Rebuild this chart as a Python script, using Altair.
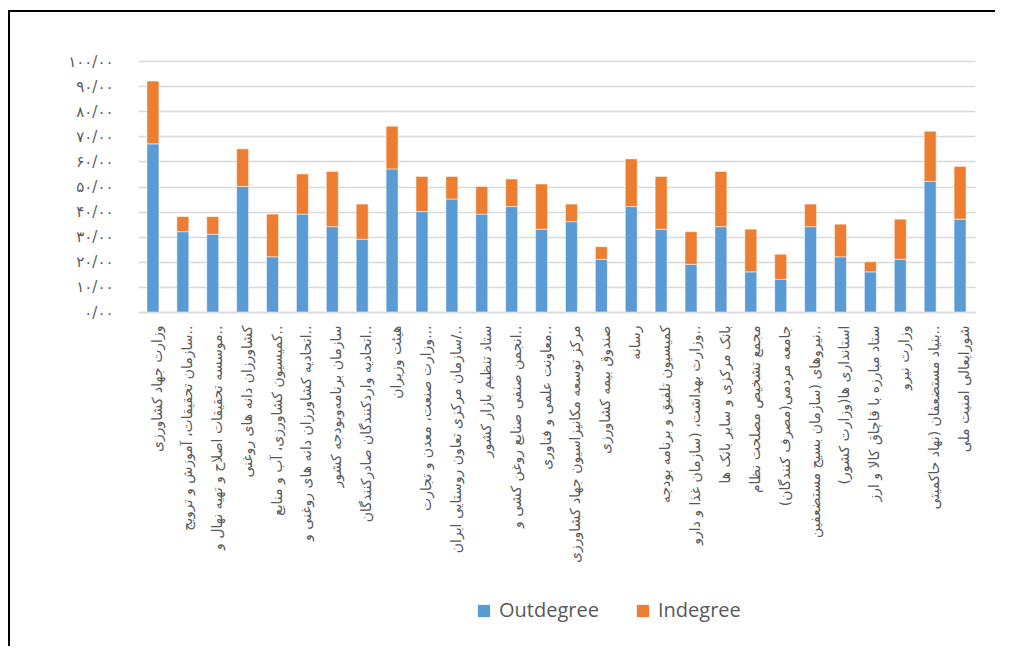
import altair as alt
import pandas as pd

organizations = [
    "وزارت جهاد کشاورزی",
    "سازمان تحقیقات، آموزش و ترویج..",
    "موسسه تحقیقات اصلاح و تهیه نهال و..",
    "کشاورزان دانه های روغنی",
    "کمیسیون کشاورزی، آب و منابع..",
    "اتحادیه کشاورزان دانه های روغنی و..",
    "سازمان برنامه‌وبودجه کشور",
    "اتحادیه واردکنندگان صادرکنندگان..",
    "هیئت وزیران",
    "وزارت صنعت، معدن و تجارت...",
    "سازمان مرکزی تعاون روستایی ایران/..",
    "ستاد تنظیم بازار کشور",
    "انجمن صنفی صنایع روغن کشی و..",
    "معاونت علمی و فناوری..",
    "مرکز توسعه مکانیزاسیون جهاد کشاورزی",
    "صندوق بیمه کشاورزی",
    "رسانه",
    "کمیسیون تلفیق و برنامه بودجه",
    "وزارت بهداشت، (سازمان غذا و دارو..",
    "بانک مرکزی و سایر بانک ها",
    "مجمع تشخیص مصلحت نظام",
    "(مصرف کنندگان)جامعه مردمی",
    "نیروهای (سازمان بسیج مستضعفین..",
    "(وزارت کشور)استانداری ها",
    "ستاد مبارزه با قاچاق کالا و ارز",
    "وزارت نیرو",
    "بنیاد مستضعفان (نهاد حاکمیتی..",
    "شورایعالی امنیت ملی",
]

outdegree = [67, 32, 31, 50, 22, 39, 34, 29, 57, 40, 45, 39, 42, 33,
             36, 21, 42, 33, 19, 34, 16, 13, 34, 22, 16, 21, 52, 37]
indegree = [25, 6, 7, 15, 17, 16, 22, 14, 17, 14, 9, 11, 11, 18,
            7, 5, 19, 21, 13, 22, 17, 10, 9, 13, 4, 16, 20, 21]

series_names = ["Outdegree", "Indegree"]
series_colors = ["#5B9BD5", "#ED7D31"]

y_tick_values = [0, 10, 20, 30, 40, 50, 60, 70, 80, 90, 100]
y_tick_labels = ["۰/۰۰", "۱۰/۰۰", "۲۰/۰۰", "۳۰/۰۰", "۴۰/۰۰", "۵۰/۰۰",
                 "۶۰/۰۰", "۷۰/۰۰", "۸۰/۰۰", "۹۰/۰۰", "۱۰۰/۰۰"]

rows = []
for org, o, i in zip(organizations, outdegree, indegree):
    rows.append({"org": org, "series": "Outdegree", "value": o, "ord": 0})
    rows.append({"org": org, "series": "Indegree", "value": i, "ord": 1})
df = pd.DataFrame(rows)

label_expr = "[" + ",".join(f"'{s}'" for s in y_tick_labels) + "][round(datum.value / 10)]"

W, H = 837, 251

bars = alt.Chart(df).mark_bar(stroke="white", strokeWidth=0.5).encode(
    x=alt.X("org:N", sort=organizations,
            scale=alt.Scale(paddingInner=0.6, paddingOuter=0.3),
            axis=alt.Axis(title=None, labelAngle=270, labelFontSize=14,
                          labelColor="#595959", labelPadding=13, labelOffset=5,
                          ticks=False, domainColor="#d9d9d9", domainWidth=1.5,
                          labelLimit=400, labelFont="DejaVu Sans")),
    y=alt.Y("value:Q", stack="zero",
            scale=alt.Scale(domain=[0, 100], nice=False),
            axis=alt.Axis(title=None, values=y_tick_values, labelExpr=label_expr,
                          domain=False, ticks=False, gridColor="#d9d9d9",
                          gridWidth=1.3,
                          labelColor="#595959", labelFontSize=15, labelPadding=25,
                          labelFont="DejaVu Sans")),
    color=alt.Color("series:N",
                    scale=alt.Scale(domain=series_names, range=series_colors),
                    legend=alt.Legend(title=None, orient="none", legendX=336, legendY=540,
                                      direction="horizontal", symbolType="square",
                                      symbolSize=150, symbolStrokeWidth=0,
                                      labelFontSize=20, labelColor="#595959",
                                      labelFont="Open Sans", columnPadding=34,
                                      labelOffset=5, padding=0)),
    order=alt.Order("ord:Q"),
)

frame = alt.Chart(pd.DataFrame({"a": [0]})).mark_rect(
    fill=None, stroke="black", strokeWidth=2
).encode(
    x=alt.value(-129), x2=alt.value(950), y=alt.value(-50), y2=alt.value(800)
)

chart = alt.layer(frame, bars).properties(
    width=W, height=H,
    autosize=alt.AutoSizeParams(type="none"),
    padding={"left": 130, "top": 53, "right": 20, "bottom": 334},
).configure_view(stroke=None)

chart.save("out.html", embed_options={"renderer": "svg", "actions": False})
